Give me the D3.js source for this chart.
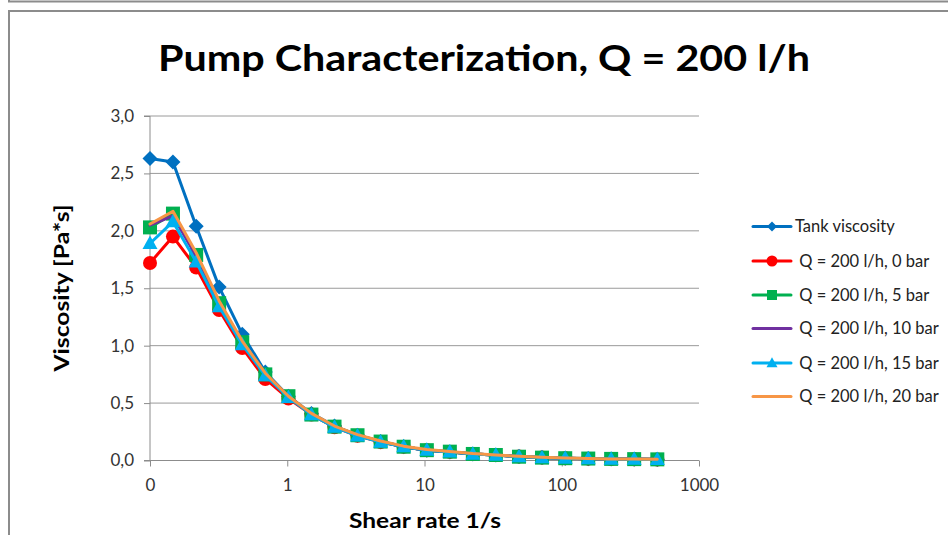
<!DOCTYPE html>
<html>
<head>
<meta charset="utf-8">
<script src="https://cdn.jsdelivr.net/npm/d3@7"></script>
<style>
  html, body { margin: 0; padding: 0; background: #fff; }
  svg { display: block; font-family: Lato, "Open Sans", sans-serif; }
</style>
</head>
<body>
<div id="chart"></div>
<script>
// ---- data ----
const shearRate = [0.1, 0.147, 0.217, 0.319, 0.470, 0.692, 1.02, 1.50, 2.21, 3.25, 4.79, 7.05, 10.4, 15.3, 22.5, 33.1, 48.8, 71.8, 106, 156, 229, 337, 497];
const tankViscosity = [2.63, 2.60, 2.04, 1.51, 1.10, 0.77, 0.56, 0.41, 0.30, 0.22, 0.165, 0.12, 0.09, 0.075, 0.057, 0.047, 0.034, 0.026, 0.020, 0.016, 0.013, 0.011, 0.009];
const bar0  = [1.72, 1.95, 1.68, 1.31, 0.98, 0.71, 0.54, 0.40, 0.29, 0.215, 0.16, 0.12, 0.09, 0.075, 0.056, 0.047, 0.034, 0.026, 0.020, 0.016, 0.013, 0.011, 0.009];
const bar5  = [2.03, 2.15, 1.79, 1.37, 1.03, 0.75, 0.56, 0.40, 0.295, 0.22, 0.165, 0.12, 0.09, 0.077, 0.057, 0.048, 0.033, 0.025, 0.020, 0.017, 0.014, 0.012, 0.010];
const bar10 = [2.05, 2.13, 1.78, 1.37, 1.03, 0.75, 0.56, 0.40, 0.295, 0.22, 0.165, 0.12, 0.09, 0.077, 0.057, 0.048, 0.034, 0.026, 0.020, 0.017, 0.014, 0.012, 0.010];
const bar15 = [1.89, 2.08, 1.73, 1.34, 1.01, 0.74, 0.55, 0.40, 0.29, 0.215, 0.16, 0.12, 0.09, 0.075, 0.056, 0.047, 0.034, 0.026, 0.020, 0.016, 0.013, 0.011, 0.009];
const bar20 = [2.06, 2.17, 1.81, 1.39, 1.04, 0.76, 0.56, 0.41, 0.30, 0.225, 0.17, 0.125, 0.095, 0.078, 0.06, 0.048, 0.036, 0.028, 0.022, 0.017, 0.014, 0.012, 0.010];
const seriesNames = ["Tank viscosity", " Q = 200 l/h, 0 bar", " Q = 200 l/h, 5 bar", " Q = 200 l/h, 10 bar", " Q = 200 l/h, 15 bar", " Q = 200 l/h, 20 bar"];
const xTickValues = [0.1, 1, 10, 100, 1000];
const xTickLabels = ["0", "1", "10", "100", "1000"];
const yTickValues = [0, 0.5, 1.0, 1.5, 2.0, 2.5, 3.0];
const titleText = "Pump Characterization, Q = 200 l/h";
const xTitle = "Shear rate 1/s";
const yTitle = "Viscosity [Pa*s]";

// ---- styles ----
const series = [
  { name: seriesNames[0], values: tankViscosity, color: "#0070C0", marker: "diamond" },
  { name: seriesNames[1], values: bar0,  color: "#FF0000", marker: "circle" },
  { name: seriesNames[2], values: bar5,  color: "#00B050", marker: "square" },
  { name: seriesNames[3], values: bar10, color: "#7030A0", marker: "none" },
  { name: seriesNames[4], values: bar15, color: "#00B0F0", marker: "triangle" },
  { name: seriesNames[5], values: bar20, color: "#F79646", marker: "none" }
];

const W = 948, H = 535;
const svg = d3.select("#chart").append("svg").attr("width", W).attr("height", H);

// frames
svg.append("path").attr("d", "M9,0 V1.5 H948").attr("fill", "none").attr("stroke", "#8c8c8c").attr("stroke-width", 2);
svg.append("rect").attr("x", 9).attr("y", 11).attr("width", 960).attr("height", 600)
  .attr("fill", "none").attr("stroke", "#8c8c8c").attr("stroke-width", 2);

const x = d3.scaleLog().domain([0.1, 1000]).range([150, 699]);
const y = d3.scaleLinear().domain([0, 3]).range([460.5, 116]);

// gridlines
svg.append("g").selectAll("line").data(yTickValues.filter(v => v > 0)).join("line")
  .attr("x1", 150).attr("x2", 699)
  .attr("y1", d => y(d)).attr("y2", d => y(d))
  .attr("stroke", "#9a9a9a").attr("stroke-width", 1);

// y axis
const yAxis = d3.axisLeft(y).tickValues(yTickValues)
  .tickFormat(d => d3.format(".1f")(d).replace(".", ",")).tickSize(6).tickPadding(10);
const gy = svg.append("g").attr("transform", "translate(150,0)").call(yAxis);
gy.attr("font-size", null).attr("font-family", null);
gy.select(".domain").attr("stroke", "#8c8c8c").attr("d", `M-6,${y(3)}H0V${y(0)}H-6`);
gy.selectAll(".tick line").attr("stroke", "#8c8c8c");
gy.selectAll(".tick text").attr("fill", "#333").attr("font-size", 17).attr("font-family", "Lato, sans-serif");

// x axis
const xAxis = d3.axisBottom(x).tickValues(xTickValues)
  .tickFormat((d, i) => xTickLabels[i]).tickSize(6).tickPadding(12);
const gx = svg.append("g").attr("transform", `translate(0,${y(0)})`).call(xAxis);
gx.attr("font-size", null).attr("font-family", null);
gx.select(".domain").attr("stroke", "#8c8c8c").attr("d", `M${x(0.1)},0H${x(1000)}`);
gx.selectAll(".tick line").attr("stroke", "#8c8c8c");
gx.selectAll(".tick text").attr("fill", "#333").attr("font-size", 17).attr("font-family", "Lato, sans-serif");

// titles
svg.append("text").attr("x", 484).attr("y", 71).attr("text-anchor", "middle")
  .attr("textLength", 652).attr("lengthAdjust", "spacingAndGlyphs")
  .style("font-size", "37px").style("font-weight", "bold").attr("fill", "#000").text(titleText);
svg.append("text").attr("x", 425).attr("y", 528).attr("text-anchor", "middle")
  .attr("textLength", 152).attr("lengthAdjust", "spacingAndGlyphs")
  .style("font-size", "20px").style("font-weight", "bold").attr("fill", "#000").text(xTitle);
svg.append("text").attr("transform", "translate(69,288) rotate(-90)").attr("text-anchor", "middle")
  .attr("textLength", 167).attr("lengthAdjust", "spacingAndGlyphs")
  .style("font-size", "20px").style("font-weight", "bold").attr("fill", "#000").text(yTitle);

// marker path generator
function markerPath(type, s) {
  const h = s / 2;
  switch (type) {
    case "diamond": return `M0,${-h}L${h},0L0,${h}L${-h},0Z`;
    case "square": return `M${-h},${-h}H${h}V${h}H${-h}Z`;
    case "triangle": return `M0,${-h*1.05}L${h},${h*0.75}L${-h},${h*0.75}Z`;
    case "circle": return d3.symbol(d3.symbolCircle, Math.PI * h * h)();
  }
  return "";
}
const markerSize = { diamond: 15, circle: 14, square: 14, triangle: 15 };
const legendMarkerSize = { diamond: 10, circle: 11, square: 10, triangle: 11 };

const line = d3.line().x(d => x(d[0])).y(d => y(d[1]));
const plot = svg.append("g");
series.forEach(s => {
  const pts = shearRate.map((r, i) => [r, s.values[i]]);
  const g = plot.append("g");
  g.append("path").datum(pts).attr("d", line).attr("fill", "none")
    .attr("stroke", s.color).attr("stroke-width", 3).attr("stroke-linejoin", "round").attr("stroke-linecap", "round");
  if (s.marker !== "none") {
    g.selectAll("path.m").data(pts).join("path").attr("class", "m")
      .attr("transform", d => `translate(${x(d[0])},${y(d[1])})`)
      .attr("d", markerPath(s.marker, markerSize[s.marker]))
      .attr("fill", s.color);
  }
});

// legend
const legendY = [226.5, 261, 295, 328.5, 363, 396.5];
const lg = svg.append("g");
series.forEach((s, i) => {
  const gy2 = legendY[i];
  lg.append("line").attr("x1", 753).attr("x2", 791).attr("y1", gy2).attr("y2", gy2)
    .attr("stroke", s.color).attr("stroke-width", 3).attr("stroke-linecap", "round");
  if (s.marker !== "none") {
    lg.append("path").attr("transform", `translate(772,${gy2})`)
      .attr("d", markerPath(s.marker, legendMarkerSize[s.marker])).attr("fill", s.color);
  }
  lg.append("text").attr("x", 795).attr("y", gy2 + 5.5).attr("xml:space", "preserve")
    .style("white-space", "pre")
    .style("font-size", "16.5px").attr("fill", "#222").text(s.name);
});
</script>
</body>
</html>
